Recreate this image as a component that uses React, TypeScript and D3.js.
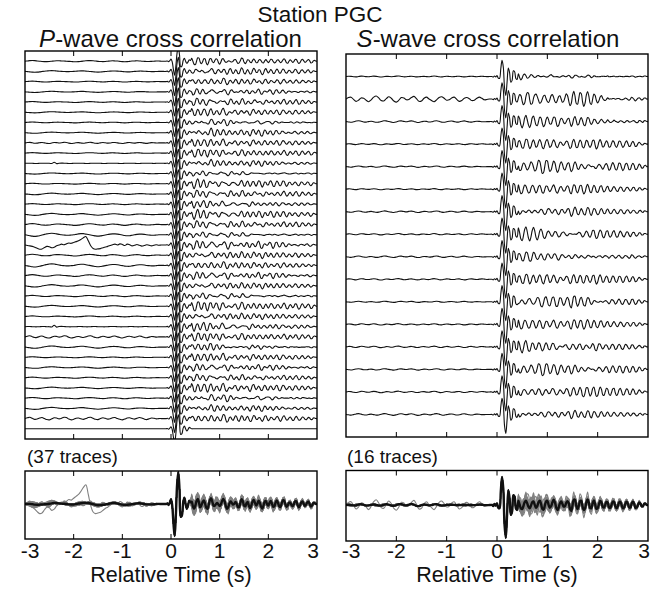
import React from 'react';
import * as d3 from 'd3';

// ---------------- sampling grid ----------------
const NOISE_T0 = -3;
const NOISE_DT = 0.05;
const WAVE_T0 = -0.1;
const SAMPLE_DT = 0.025;
const CODA_T0 = 0.425;

const X_TICK_LABELS = [-3, -2, -1, 0, 1, 2, 3];
const X_INNER_TICKS = [-2, -1, 0, 1, 2];

// ---------------- P-wave data (hundredths of peak amplitude) ----------------
const P_WAVELET = [0, 2, -3, 4, 15, -5, -60, -100, -35, 60, 100, 45, -40, -35, 5, 20, 0, -15, -5, 10, 5];

const P_NOISE_0 = [0,2,4,5,4,2,0,-2,-3,-3,-2,0,2,3,3,2,1,0,-1,-2,-4,-4,-3,-1,1,3,4,4,3,1,-1,-2,-3,-2,0,2,3,2,1,-1,-3,-4,-3,-1,1,2,3,2,0,-1,-2,-2,-1,0,1,1,0,0];
const P_NOISE_1 = [0,3,5,1,-3,-2,2,4,0,-4,-5,-1,3,2,-1,1,5,4,-2,-5,-3,1,2,-1,-3,0,4,5,1,-3,-4,0,3,1,-2,-1,3,4,0,-3,-5,-2,2,3,0,-2,1,4,2,-2,-4,-1,2,1,-1,0,0,0];
const P_NOISE_2 = [0,-2,-4,-6,-7,-6,-4,-1,2,4,6,7,6,4,2,0,-1,-2,-2,-1,0,2,4,5,5,3,1,-1,-3,-5,-6,-5,-3,-1,1,3,4,4,3,1,-1,-3,-4,-4,-2,0,2,3,3,2,0,-1,-2,-2,-1,0,0,0];
const P_NOISE_3 = [0,1,1,0,-1,-1,0,1,1,0,0,-2,10,-3,1,2,1,0,-1,-1,0,0,1,1,0,-1,-1,0,1,1,0,0,-1,-1,0,1,1,1,0,-1,-1,0,0,1,1,0,-1,-1,0,1,1,0,0,-1,0,0,0,0];
const P_NOISE_4 = [0,-4,-6,-10,-16,-24,-30,-28,-18,-10,-12,-20,-16,-6,0,6,2,8,14,12,18,24,30,40,52,60,30,-5,-25,-30,-28,-26,-20,-14,-10,-4,2,6,0,8,4,-4,6,2,-6,-2,4,-2,-8,-4,2,-2,-6,-2,2,-2,0,0];
const P_NOISES = [P_NOISE_0, P_NOISE_1, P_NOISE_2, P_NOISE_3, P_NOISE_4];

// coherent part of the P coda (common to all traces)
const P_CODA_BASE = [8,-4,-12,-6,6,14,6,-8,-4,4, 10,2,-10,-14,-2,12,16,4,-8,-6, 2,6,0,-6,-2,8,14,8,-6,-14, -10,2,8,4,-2,0,6,2,-8,-10, 0,12,10,-2,-6,0,4,-4,-10,-4, 6,10,4,-2,2,8,2,-8,-12,-4, 6,8,0,-4,2,6,0,-6,-4,4, 8,2,-6,-8,0,8,10,2,-6,-4, 2,4,-2,-6,-2,6,8,0,-8,-6, 2,6,2,-4,-2,4,6,0,-6,-4, 2,2,0,0];
// trace-specific parts of the P coda
const P_CODA_0 = [12,4,-10,-18,-6,10,16,2,-14,-8, 8,14,-2,-12,-4,6,2,-8,-2,10, 16,6,-10,-16,-4,8,4,-6,-2,8, 12,0,-12,-10,2,10,6,-4,-8,-2, 4,10,8,-4,-12,-6,6,12,4,-6, -2,6,2,-8,-12,-2,10,12,2,-8, -4,4,0,-6,-2,8,12,4,-8,-12, -2,8,6,-2,-4,2,8,4,-6,-10, -2,6,4,-2,0,6,4,-4,-8,-4, 4,8,2,-4,-2,2,6,2,-6,-6, 0,4,2,0];
const P_CODA_1 = [-6,-16,-8,8,18,6,-10,-6,6,12, 0,-14,-12,4,10,2,-6,2,12,8, -8,-14,-2,12,10,-4,-10,-2,4,0, -6,2,12,10,-4,-12,-6,4,2,-6, -4,6,12,4,-8,-10,0,8,2,-6, -10,0,10,8,-4,-8,2,8,0,-10, -8,4,10,2,-6,-2,6,4,-6,-8, 0,8,4,-4,-2,4,8,0,-8,-6, 2,6,0,-6,-2,4,8,2,-6,-6, 0,6,4,-2,-6,-2,4,4,-2,-4, 0,2,0,0];
const P_CODA_2 = [4,18,12,-8,-16,-2,8,2,-10,-12, 0,12,16,2,-12,-8,4,8,-2,-10, -4,6,4,-6,-12,-2,12,14,0,-10, -6,4,2,-8,-10,2,12,8,-4,-8, 0,6,0,-8,-4,6,10,2,-8,-12, -2,10,10,-2,-8,-2,4,0,-6,-2, 8,10,0,-10,-8,2,6,2,-4,-2, 6,8,-2,-10,-6,4,8,2,-4,-4, 2,6,2,-6,-8,0,6,4,-2,-4, -2,4,6,0,-6,-4,2,4,0,-2, 2,2,0,0];
const P_CODAS = [P_CODA_0, P_CODA_1, P_CODA_2];

const P_NOISE_VAR = [0,2,0,2,0,2,0,2,1,0, 3,2,0,2,0,2,0,2,4,0, 2,0,2,0,2,0,3,1,2,0, 2,0,2,0,2,1,0];
const P_NOISE_AMP = [1,0.8,0.7,0.6,0.8,0.6,0.7,0.6,0.8,0.7, 0.8,0.6,0.7,0.8,0.8,1,1.4,1.6,1,1.4, 1.6,1.4,1.2,1,0.9,0.8,1,1.6,1.2,0.8, 0.8,0.9,0.8,1,1,1.8,0];
const P_CODA_VAR = [0,1,2,0,1,2,0,1,2,0, 1,2,0,1,2,0,1,2,0,1, 2,0,1,2,0,1,2,0,1,2, 0,1,2,0,1,2,0];
const P_CODA_SHIFT = [0,1,0,2,0,1,3,2,1,0, 2,3,1,0,2,1,0,3,2,1, 0,2,1,3,0,1,2,0,3,1, 2,0,1,3,2,0,0];
const P_CODA_AMP = [1,1.1,0.9,1,1.1,1,0.9,1.2,1,1.1, 1,0.9,1.2,1.1,1,1.2,1.1,1,1.4,1.1, 1,1.2,1,1.1,1.3,1,1.2,1.1,1,1, 1.1,1,1.2,1,1,1.1,0];

// ---------------- S-wave data ----------------
const S_WAVELET = [0, -3, 3, -2, 5, -8, -10, 40, 85, 50, -60, -100, -30, 45, 20, -30, -20, 30, 25, -10, -15];

const S_NOISE_0 = [0,3,2,-2,-4,0,4,3,-1,-2, 1,4,2,-3,-5,-2,2,1,-2,0, 4,5,1,-3,-2,1,3,0,-4,-3, 1,2,-1,-2,2,5,2,-3,-4,0, 3,1,-2,-1,2,3,-1,-4,-2,2, 3,0,-2,1,3,1,-1,0];
const S_NOISE_1 = [0,8,10,-2,-12,-6,6,4,-6,-14, -4,10,16,6,-8,-10,2,12,4,-10, -16,-6,8,6,-4,-2,8,14,2,-12, -10,4,10,0,-8,-14,-4,8,12,4, -6,-4,6,10,-2,-12,-8,4,8,2, -8,-6,4,10,4,-4,-2,0];
const S_NOISE_2 = [0,-2,-4,-1,3,5,2,-2,-3,0, 2,-1,-4,-3,1,5,4,0,-3,-5, -2,3,4,1,-1,2,4,1,-4,-5, -1,2,1,-2,-1,3,5,2,-3,-4, -1,2,3,0,-3,-2,2,4,1,-2, -3,0,2,1,-1,-1,0,0];
const S_NOISES = [S_NOISE_0, S_NOISE_1, S_NOISE_2];

const S_CODA_BASE = [13,2,-10,-14,-5,8,14,6,-6,-13, -5,8,13,3,-8,-6,5,11,5,-8, -13,-5,6,10,2,-5,-2,6,13,8, -5,-13,-8,3,8,3,-3,-2,5,8, 4,-10,-15,0,14,12,-4,-10,0,12, 10,-8,-16,-8,10,16,4,-10,-8,8, 14,0,-14,-10,4,14,8,-8,-10,0, 10,8,-8,-10,0,10,10,-4,-10,-4, 8,10,0,-10,-8,4,10,4,-8,-8, 4,10,4,-8,-8,0,8,4,-4,-4, 4,4,0,0];
const S_CODA_0 = [8,-10,-16,2,18,10,-8,-18,-4,14, 20,2,-14,-10,4,12,2,-10,-6,8, 16,6,-10,-14,0,14,16,0,-14,-10, 4,12,4,-8,-8,2,8,2,-6,-4, 6,12,6,-10,-15,-3,13,14,-3,-15, -9,6,12,3,-9,-6,6,12,0,-12, -9,3,12,9,-6,-15,-6,9,12,0, -9,-3,6,9,0,-9,-6,3,9,3, -6,-9,0,9,6,-3,-9,-3,6,9, 0,-6,-3,3,6,0,-6,-3,3,3, 0,0,0,0];
const S_CODA_1 = [-10,-22,-8,16,24,6,-18,-24,-4,20, 30,10,-16,-26,-10,14,28,16,-10,-28, -18,8,26,20,-4,-20,-16,2,16,12, -6,-18,-10,8,18,10,-8,-16,-6,8, 16,6,-11,-17,-3,14,17,0,-14,-11, 3,14,11,-3,-14,-8,6,14,8,-6, -14,-8,6,14,8,-6,-11,-6,6,11, 6,-6,-11,-3,8,11,0,-8,-8,3, 11,6,-6,-11,-3,8,8,0,-8,-6, 3,8,3,-6,-6,0,6,3,-3,-3, 0,3,0,0];
const S_CODA_2 = [2,14,12,-6,-16,-8,10,16,4,-10, -16,-6,10,14,4,-8,-14,-4,10,12, 0,-12,-10,4,12,6,-6,-10,-2,8, 12,2,-10,-10,0,8,8,-2,-8,-6, 4,12,6,-8,-12,0,12,9,-6,-12, -3,9,12,0,-12,-9,3,12,6,-6, -12,-3,9,12,0,-9,-9,3,12,6, -6,-9,0,9,6,-3,-9,-3,6,9, 0,-9,-6,3,9,3,-6,-6,0,6, 6,-3,-6,0,6,3,-3,-3,0,3, 0,0,0,0];
const S_CODAS = [S_CODA_0, S_CODA_1, S_CODA_2];

const S_NOISE_VAR = [0,1,2,0,2,0,2,0,2,0,2,0,0,2,0,2];
const S_NOISE_AMP = [0.5,1,0.9,0.6,0.7,0.6,0.8,0.7,0.8,0.7,0.6,0.7,0.8,0.7,0.8,0.9];
const S_CODA_VAR = [0,1,2,0,1,2,0,1,2,0,1,2,0,1,2,0];
const S_CODA_SHIFT = [0,2,1,3,0,2,1,4,0,3,1,2,4,0,3,1];
const S_CODA_AMP = [0.7,1.3,1.1,0.9,1,0.9,1,0.9,1,0.9,1,0.9,1,0.9,1,0.9];

// ---------------- helpers ----------------
type Pt = [number, number];

function buildTrace(noise: number[], nAmp: number, wavelet: number[], base: number[], coda: number[], cShift: number, cAmp: number): Pt[] {
  const pts: Pt[] = [];
  noise.forEach((v, k) => pts.push([NOISE_T0 + k * NOISE_DT, (v * nAmp) / 100]));
  wavelet.forEach((v, k) => pts.push([WAVE_T0 + k * SAMPLE_DT, v / 100]));
  base.forEach((b, k) => {
    const v = coda[k + cShift] ?? 0;
    pts.push([CODA_T0 + k * SAMPLE_DT, (cAmp * (b + v)) / 100]);
  });
  return pts;
}

function stackTraces(traces: Pt[][]): Pt[] {
  return traces[0].map((p, i) => [p[0], d3.mean(traces, (tr) => tr[i][1]) as number] as Pt);
}

const P_TRACES: Pt[][] = P_NOISE_VAR.map((nv, i) =>
  buildTrace(P_NOISES[nv], P_NOISE_AMP[i], P_WAVELET, P_CODA_BASE, P_CODAS[P_CODA_VAR[i]], P_CODA_SHIFT[i], P_CODA_AMP[i])
);
const S_TRACES: Pt[][] = S_NOISE_VAR.map((nv, i) =>
  buildTrace(S_NOISES[nv], S_NOISE_AMP[i], S_WAVELET, S_CODA_BASE, S_CODAS[S_CODA_VAR[i]], S_CODA_SHIFT[i], S_CODA_AMP[i])
);
const P_STACK = stackTraces(P_TRACES);
const S_STACK = stackTraces(S_TRACES);

const FONT = "'Liberation Sans', Arial, Helvetica, sans-serif";

interface Box { x0: number; x1: number; y0: number; y1: number; }

const P_TOP: Box = { x0: 25, x1: 317, y0: 51, y1: 439 };
const S_TOP: Box = { x0: 346, x1: 648, y0: 54, y1: 437 };
const P_BOT: Box = { x0: 25, x1: 317, y0: 471, y1: 539 };
const S_BOT: Box = { x0: 346, x1: 648, y0: 470.5, y1: 541 };

function Frame({ box, id }: { box: Box; id: string }) {
  const x = d3.scaleLinear().domain([-3, 3]).range([box.x0, box.x1]);
  return (
    <g>
      {X_INNER_TICKS.map((t) => (
        <g key={id + t}>
          <line x1={x(t)} x2={x(t)} y1={box.y0} y2={box.y0 + 5} stroke="#000" strokeWidth={1} />
          <line x1={x(t)} x2={x(t)} y1={box.y1} y2={box.y1 - 5} stroke="#000" strokeWidth={1} />
        </g>
      ))}
      <rect x={box.x0} y={box.y0} width={box.x1 - box.x0} height={box.y1 - box.y0} fill="none" stroke="#000" strokeWidth={1.4} />
    </g>
  );
}

function TopPanel({ box, traces, ampPx, id }: { box: Box; traces: Pt[][]; ampPx: number; id: string }) {
  const x = d3.scaleLinear().domain([-3, 3]).range([box.x0, box.x1]);
  const gap = (box.y1 - box.y0) / (traces.length + 1);
  const amp = d3.scaleLinear().domain([-1, 1]).range([ampPx, -ampPx]);
  return (
    <g>
      <defs>
        <clipPath id={id}>
          <rect x={box.x0} y={box.y0} width={box.x1 - box.x0} height={box.y1 - box.y0} />
        </clipPath>
      </defs>
      <g clipPath={`url(#${id})`}>
        {traces.map((tr, i) => {
          const base = box.y0 + (i + 1) * gap;
          const line = d3
            .line<Pt>()
            .x((d) => x(d[0]))
            .y((d) => base + amp(d[1]))
            .curve(d3.curveCatmullRom.alpha(0.5));
          return <path key={i} d={line(tr) || ''} fill="none" stroke="#111" strokeWidth={1.1} strokeLinejoin="round" />;
        })}
      </g>
      <Frame box={box} id={id + 'f'} />
    </g>
  );
}

function BottomPanel({ box, traces, stack, ampPx, center, id }: { box: Box; traces: Pt[][]; stack: Pt[]; ampPx: number; center: number; id: string }) {
  const x = d3.scaleLinear().domain([-3, 3]).range([box.x0, box.x1]);
  const y = d3.scaleLinear().domain([-1, 1]).range([center + ampPx, center - ampPx]);
  const line = d3
    .line<Pt>()
    .x((d) => x(d[0]))
    .y((d) => y(d[1]))
    .curve(d3.curveCatmullRom.alpha(0.5));
  return (
    <g>
      <defs>
        <clipPath id={id}>
          <rect x={box.x0} y={box.y0} width={box.x1 - box.x0} height={box.y1 - box.y0} />
        </clipPath>
      </defs>
      <g clipPath={`url(#${id})`}>
        {traces.map((tr, i) => (
          <path key={i} d={line(tr) || ''} fill="none" stroke="#808080" strokeWidth={1.1} />
        ))}
        <path d={line(stack) || ''} fill="none" stroke="#111" strokeWidth={2.4} strokeLinejoin="round" />
      </g>
      <Frame box={box} id={id + 'f'} />
      {X_TICK_LABELS.map((t) => (
        <text key={t} x={x(t) + (t === -3 ? 5 : t === 3 ? -4 : 0)} y={558} textAnchor="middle" fontSize={21} fontFamily={FONT} fill="#111">
          {t}
        </text>
      ))}
      <text x={(box.x0 + box.x1) / 2} y={582} textAnchor="middle" fontSize={21.5} fontFamily={FONT} fill="#111">
        Relative Time (s)
      </text>
    </g>
  );
}

export default function App() {
  return (
    <svg width={658} height={592} viewBox="0 0 658 592" style={{ position: 'absolute', left: 0, top: 0, background: '#fff' }}>
      <rect x={0} y={0} width={658} height={592} fill="#fff" />
      <text x={320} y={22} textAnchor="middle" fontSize={22.5} fontFamily={FONT} fill="#111">Station PGC</text>
      <text x={170.5} y={47} textAnchor="middle" fontSize={24} fontFamily={FONT} fill="#111">
        <tspan fontStyle="italic">P</tspan>-wave cross correlation
      </text>
      <text x={488} y={47} textAnchor="middle" fontSize={24} fontFamily={FONT} fill="#111">
        <tspan fontStyle="italic">S</tspan>-wave cross correlation
      </text>
      <TopPanel box={P_TOP} traces={P_TRACES} ampPx={14} id="clipPTop" />
      <TopPanel box={S_TOP} traces={S_TRACES} ampPx={19} id="clipSTop" />
      <text x={27} y={463} fontSize={19} fontFamily={FONT} fill="#111">(37 traces)</text>
      <text x={347} y={463} fontSize={19} fontFamily={FONT} fill="#111">(16 traces)</text>
      <BottomPanel box={P_BOT} traces={P_TRACES} stack={P_STACK} ampPx={32} center={504} id="clipPBot" />
      <BottomPanel box={S_BOT} traces={S_TRACES} stack={S_STACK} ampPx={33} center={505} id="clipSBot" />
    </svg>
  );
}
